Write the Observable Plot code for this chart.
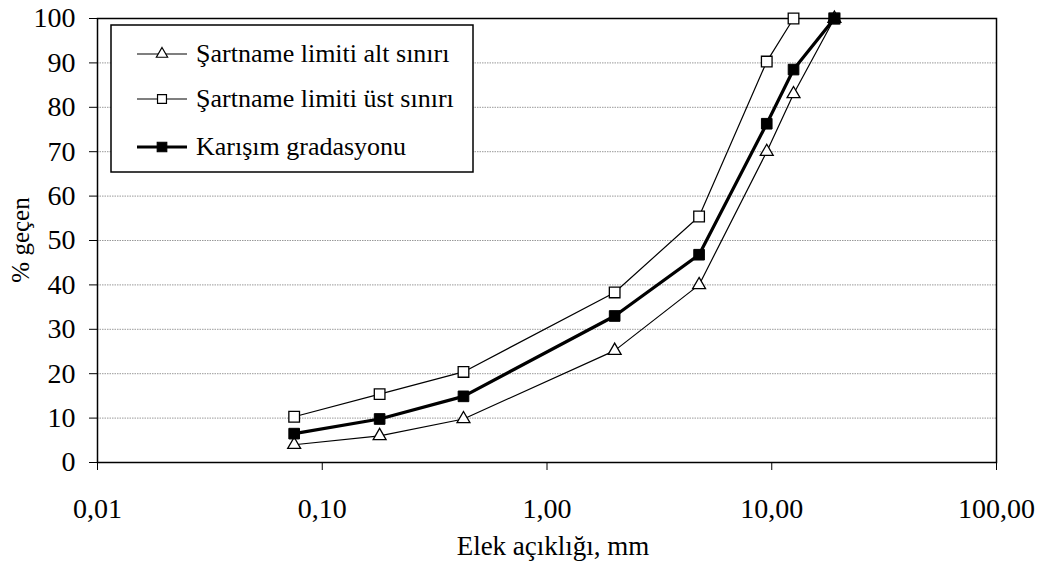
<!DOCTYPE html>
<html>
<head>
<meta charset="utf-8">
<script src="https://cdn.jsdelivr.net/npm/d3@7"></script>
<script src="https://cdn.jsdelivr.net/npm/@observablehq/plot@0.6"></script>
<style>
  html, body { margin: 0; padding: 0; background: #fff; }
</style>
</head>
<body>
<div id="chart"></div>
<script>
const sieve = [0.075, 0.18, 0.425, 2.0, 4.75, 9.5, 12.5, 19.0];
const lower = [4, 6, 9.8, 25.2, 40, 70, 83, 100];
const upper = [10.3, 15.4, 20.4, 38.3, 55.4, 90.3, 100, 100];
const mix = [6.5, 9.8, 14.9, 33, 46.8, 76.3, 88.5, 100];

const seriesNames = ["Şartname limiti alt sınırı", "Şartname limiti üst sınırı", "Karışım gradasyonu"];
const xTicks = [0.01, 0.1, 1, 10, 100];
const xTickLabels = ["0,01", "0,10", "1,00", "10,00", "100,00"];
const yTicks = [0, 10, 20, 30, 40, 50, 60, 70, 80, 90, 100];
const gridVals = [10, 20, 30, 40, 50, 60, 70, 80, 90];

const rows = (vals, s) => sieve.map((x, i) => ({x, y: vals[i], s}));
const dLower = rows(lower, seriesNames[0]);
const dUpper = rows(upper, seriesNames[1]);
const dMix = rows(mix, seriesNames[2]);

const FONT = "'Liberation Serif', 'Times New Roman', serif";

const chart = Plot.plot({
  width: 1046,
  height: 565,
  marginLeft: 97,
  marginRight: 50,
  marginTop: 18,
  marginBottom: 103,
  style: {fontFamily: FONT, fontSize: "27px", color: "black", background: "white"},
  x: {type: "log", domain: [0.01, 100]},
  y: {domain: [0, 100]},
  marks: [
    Plot.ruleY(gridVals, {stroke: "#999", strokeDasharray: "1.5,1"}),
    Plot.axisX({
      ticks: xTicks,
      tickFormat: d => xTickLabels[xTicks.indexOf(d)],
      tickSize: 8, tickPadding: 28, fontSize: 28,
      label: null
    }),
    Plot.axisY({
      ticks: yTicks, tickSize: 8, tickPadding: 14, fontSize: 28,
      label: null
    }),
    Plot.frame({stroke: "black", strokeWidth: 1.5}),
    Plot.line(dLower, {x: "x", y: "y", stroke: "black", strokeWidth: 1.2}),
    Plot.line(dUpper, {x: "x", y: "y", stroke: "black", strokeWidth: 1.2}),
    Plot.dot(dLower, {x: "x", y: "y", symbol: "triangle", r: 4.8, fill: "white", stroke: "black", strokeWidth: 1.3}),
    Plot.dot(dUpper, {x: "x", y: "y", symbol: "square", r: 6, fill: "white", stroke: "black", strokeWidth: 1.3}),
    Plot.line(dMix, {x: "x", y: "y", stroke: "black", strokeWidth: 3.2}),
    Plot.dot(dMix, {x: "x", y: "y", symbol: "square", r: 6, fill: "black", stroke: "black", strokeWidth: 1})
  ]
});

document.getElementById("chart").appendChild(chart);

const svg = d3.select(chart);

// Axis titles
svg.append("text").attr("x", 553).attr("y", 555)
  .attr("text-anchor", "middle").attr("font-family", FONT).attr("font-size", 27)
  .text("Elek açıklığı, mm");
svg.append("text").attr("transform", "translate(29,240) rotate(-90)")
  .attr("text-anchor", "middle").attr("font-family", FONT).attr("font-size", 25)
  .text("% geçen");

// Legend drawn inside the plot area
const lg = svg.append("g").attr("font-family", FONT).attr("font-size", 26).attr("text-anchor", "start");
lg.append("rect").attr("x", 111).attr("y", 25).attr("width", 362).attr("height", 147)
  .attr("fill", "white").attr("stroke", "black").attr("stroke-width", 1.5);
const legendItems = [
  {name: seriesNames[0], sym: d3.symbolTriangle, fill: "white", sw: 1.2, cy: 54, size: 55},
  {name: seriesNames[1], sym: d3.symbolSquare, fill: "white", sw: 1.2, cy: 99, size: 80},
  {name: seriesNames[2], sym: d3.symbolSquare, fill: "black", sw: 3.2, cy: 147, size: 90}
];
legendItems.forEach((it) => {
  lg.append("line").attr("x1", 137).attr("x2", 187).attr("y1", it.cy).attr("y2", it.cy)
    .attr("stroke", "black").attr("stroke-width", it.sw);
  lg.append("path").attr("d", d3.symbol(it.sym, it.size)())
    .attr("transform", `translate(162,${it.cy})`)
    .attr("fill", it.fill).attr("stroke", "black").attr("stroke-width", 1.2);
  lg.append("text").attr("x", 196).attr("y", it.cy).attr("dy", "0.32em")
    .attr("text-anchor", "start").text(it.name);
});
</script>
</body>
</html>
